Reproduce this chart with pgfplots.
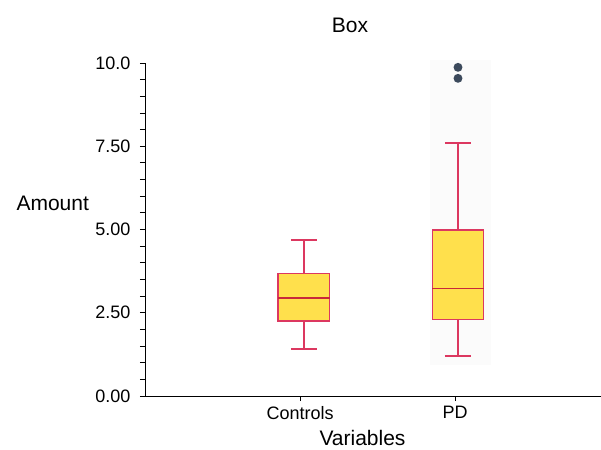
\documentclass[border=0pt]{standalone}
\usepackage{fontspec}
\setmainfont{Liberation Sans}
\usepackage{pgfplots}
\pgfplotsset{compat=1.18}
\usepgfplotslibrary{statistics}
\definecolor{boxfill}{HTML}{FFE04C}
\definecolor{boxedge}{HTML}{DC3860}
\definecolor{medc}{HTML}{C8283A}
\definecolor{outl}{HTML}{3C4A5C}
\begin{document}
\begin{tikzpicture}
\useasboundingbox (-145pt,-53pt) rectangle (456pt,396pt);
\begin{axis}[
  scale only axis, width=456pt, height=333pt,
  xmin=0, xmax=2.94, ymin=0, ymax=10,
  boxplot/draw direction=y,
  boxplot/every box/.style={draw=boxedge, fill=boxfill, line width=1.8pt},
  boxplot/every whisker/.style={draw=boxedge, line width=1.8pt},
  boxplot/every median/.style={draw=medc, line width=1.8pt},
  axis x line*=bottom, axis y line*=left,
  axis line style={-, black, line width=0.8pt},
  xtick={1,2}, xticklabels={Controls,PD},
  ytick={0,2.5,5,7.5,10}, yticklabels={0.00,2.50,5.00,7.50,10.0},
  minor y tick num=4,
  tick align=outside,
  major tick length=5pt, minor tick length=5pt,
  tick style={black, line width=0.8pt},
  ticklabel style={font=\fontsize{18}{18}\selectfont},
  yticklabel style={xshift=-6pt},
  xticklabel style={yshift=-2pt},
  xlabel={Variables},
  xlabel style={font=\fontsize{21}{21}\selectfont, at={(axis description cs:0.477,0)}, anchor=center, yshift=-42pt},
  clip=false,
]
\fill[black!1.5] (axis cs:1.84,0.93) rectangle (axis cs:2.23,10.1);
\addplot[boxplot prepared={draw position=1.025, lower whisker=1.41, lower quartile=2.25, median=2.95, upper quartile=3.68, upper whisker=4.68, box extend=0.33, whisker extend=0.17},
  draw=boxedge, line width=1.8pt, solid] coordinates {};
\addplot[boxplot prepared={draw position=2.018, lower whisker=1.20, lower quartile=2.30, median=3.23, upper quartile=4.98, upper whisker=7.60, box extend=0.33, whisker extend=0.17},
  draw=boxedge, line width=1.8pt, solid,
  mark=*, mark size=3.5pt, mark options={draw=outl, fill=outl, solid}] coordinates {(0,9.87) (0,9.54)};
\end{axis}
\node[anchor=west, font=\fontsize{21}{21}\selectfont] at (-132pt,193pt) {Amount};
\node[font=\fontsize{21}{21}\selectfont] at (205pt,371pt) {Box};
\end{tikzpicture}
\end{document}
